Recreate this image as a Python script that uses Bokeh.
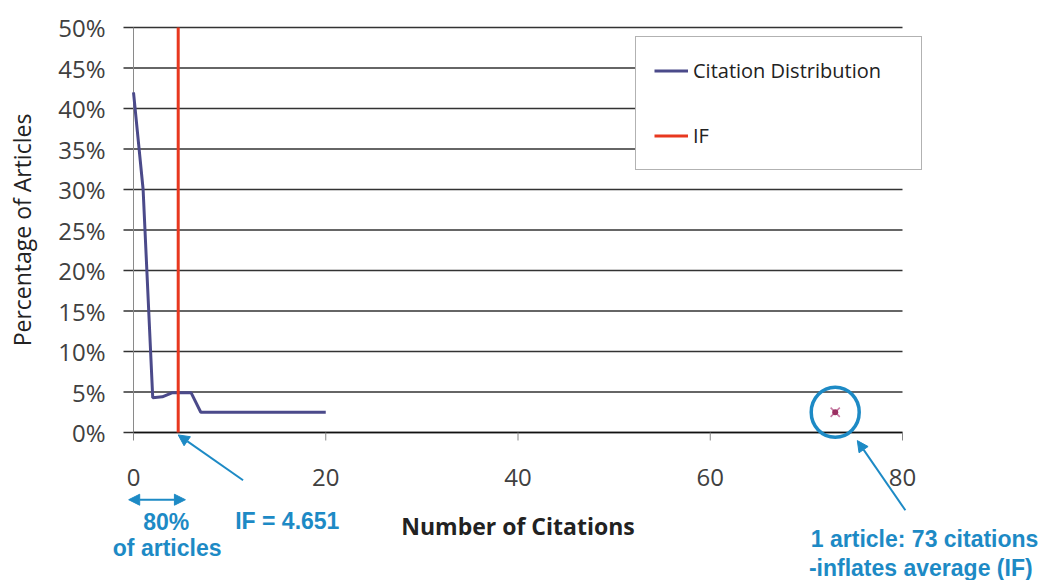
import math
from bokeh.plotting import figure
from bokeh.models import Legend, LegendItem, Arrow, NormalHead, Range1d
from bokeh.core.properties import value
from bokeh.embed import file_html
from bokeh.resources import INLINE

# ---- data ----
citations = [0, 1, 2, 3, 4, 5, 6, 7, 8, 9, 10, 11, 12, 13, 14, 15, 16, 17, 18, 19, 20]
share = [0.42, 0.30, 0.043, 0.044, 0.049, 0.049, 0.049, 0.025, 0.025, 0.025, 0.025,
         0.025, 0.025, 0.025, 0.025, 0.025, 0.025, 0.025, 0.025, 0.025, 0.025]
outlier_x = [73]
outlier_y = [0.025]
impact_factor = 4.651
x_ticks = [0, 20, 40, 60, 80]
x_tick_labels = ["0", "20", "40", "60", "80"]
y_ticks = [0, 0.05, 0.10, 0.15, 0.20, 0.25, 0.30, 0.35, 0.40, 0.45, 0.50]
y_tick_labels = ["0%", "5%", "10%", "15%", "20%", "25%", "30%", "35%", "40%", "45%", "50%"]

BLUE = "#1d8ac5"
LINE = "#4b4a8a"
RED = "#e8381f"
TICK = "#404040"
FONT = value("Open Sans")

# ---- layout (pixels) ----
W, H = 1040, 580
LEFT, TOP, FW, FH = 133, 27, 769, 405          # plot area inside the canvas
XMIN, XMAX = x_ticks[0], x_ticks[-1]
YMIN, YMAX = y_ticks[0], y_ticks[-1]
PX = (XMAX - XMIN) / FW                         # data units per pixel
PY = (YMAX - YMIN) / FH

p = figure(width=W, height=H, min_border=0,
           x_range=Range1d(XMIN - LEFT * PX, XMIN + (W - LEFT) * PX),
           y_range=Range1d(YMIN - (H - TOP - FH) * PY, YMAX + TOP * PY),
           x_axis_type=None, y_axis_type=None,
           output_backend="svg", toolbar_location=None)
p.outline_line_color = None
p.xgrid.visible = False
p.ygrid.visible = False
p.background_fill_color = "white"
p.border_fill_color = "white"

# horizontal gridlines + y tick marks
p.segment(x0=[XMIN - 10 * PX] * len(y_ticks), y0=y_ticks, x1=[XMAX] * len(y_ticks), y1=y_ticks,
          line_color="#333333", line_width=1.3)
# y axis line
p.segment(x0=[XMIN], y0=[YMIN], x1=[XMIN], y1=[YMAX], line_color="#8a8a8a", line_width=1)
# x axis line and tick marks
p.segment(x0=[XMIN], y0=[YMIN], x1=[XMAX], y1=[YMIN], line_color="#111111", line_width=1.6)
p.segment(x0=x_ticks, y0=[YMIN] * len(x_ticks), x1=x_ticks, y1=[YMIN - 8 * PY] * len(x_ticks),
          line_color="#888888", line_width=1)

# tick labels
p.text(x=[XMIN] * len(y_ticks), y=y_ticks, text=y_tick_labels, x_offset=-28,
       text_align="right", text_baseline="middle", text_font=FONT,
       text_font_size="24px", text_color=TICK)
p.text(x=x_ticks, y=[YMIN] * len(x_ticks), text=x_tick_labels, y_offset=45,
       text_align="center", text_baseline="middle", text_font=FONT,
       text_font_size="24px", text_color=TICK)

# axis titles
p.text(x=[(XMIN + XMAX) / 2], y=[YMIN], text=["Number of Citations"], y_offset=93,
       text_align="center", text_baseline="middle", text_font=FONT,
       text_font_size="23px", text_font_style="bold", text_color="#222222")
p.text(x=[XMIN], y=[(YMIN + YMAX) / 2], text=["Percentage of Articles"], x_offset=-112,
       angle=math.pi / 2, text_align="center", text_baseline="middle",
       text_font=FONT, text_font_size="23px", text_color="#222222")

# series
r_dist = p.line(citations, share, line_color=LINE, line_width=3)
r_if = p.line([impact_factor, impact_factor], [YMIN, YMAX], line_color=RED, line_width=3)

# outlier point and ellipse around it
p.scatter(outlier_x, outlier_y, marker="x", size=13, line_color="#c77aa3", line_width=1.5)
p.scatter(outlier_x, outlier_y, marker="circle", size=6, fill_color="#9b2f62", line_color=None)
p.ellipse(x=outlier_x, y=outlier_y, width=48, height=50,
          width_units="screen", height_units="screen",
          fill_color=None, line_color=BLUE, line_width=3.5)

# legend
legend = Legend(items=[LegendItem(label="Citation Distribution", renderers=[r_dist]),
                       LegendItem(label="IF", renderers=[r_if])],
                location=(635, H - 170), orientation="vertical",
                padding=18, spacing=34, glyph_width=34, glyph_height=31,
                label_height=31, label_width=210, label_standoff=5,
                label_text_font="Open Sans", label_text_font_size="20px",
                label_text_color="#222222",
                border_line_color="#666666", border_line_width=1.5,
                background_fill_color="white", background_fill_alpha=1.0,
                margin=0)
p.add_layout(legend, "center")

# blue annotations
def note(x, y, text):
    p.text(x=[x], y=[y], text=[text], text_align="center", text_baseline="middle",
           text_font=value("Liberation Sans"), text_font_size="23px",
           text_font_style="bold", text_color=BLUE)

note(3.4, -0.111, "80%")
note(3.5, -0.142, "of articles")
note(16.0, -0.109, "IF = 4.651")
note(82.3, -0.131, "1 article: 73 citations")
note(81.9, -0.167, "-inflates average (IF)")

head = dict(size=11, fill_color=BLUE, line_color=BLUE)
p.add_layout(Arrow(start=NormalHead(**head), end=NormalHead(**head),
                   x_start=-0.5, y_start=-0.083, x_end=5.4, y_end=-0.083,
                   line_color=BLUE, line_width=2))
p.add_layout(Arrow(end=NormalHead(**head), x_start=11.4, y_start=-0.059,
                   x_end=impact_factor, y_end=-0.003, line_color=BLUE, line_width=2))
p.add_layout(Arrow(end=NormalHead(**head), x_start=80.3, y_start=-0.096,
                   x_end=75.3, y_end=-0.010, line_color=BLUE, line_width=2))

open("out.html", "w").write(file_html(p, INLINE))
